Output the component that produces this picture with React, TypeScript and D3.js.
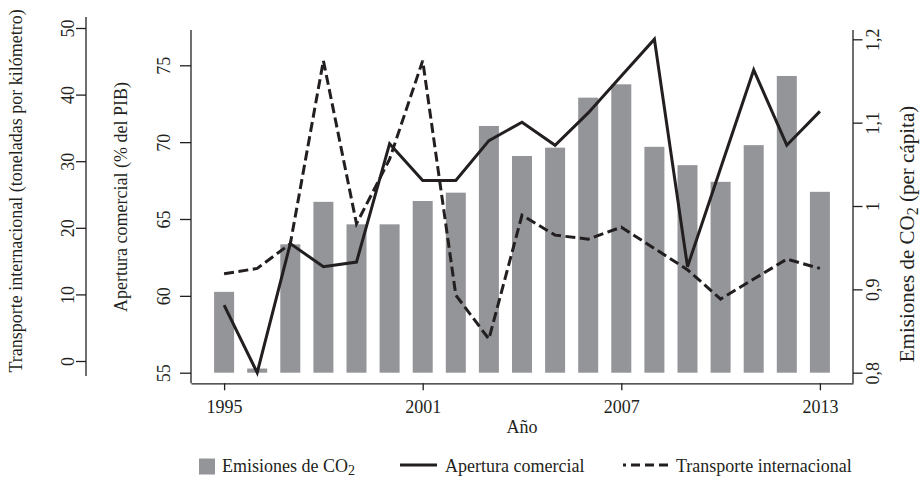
import { useEffect, useRef } from "react";
import * as d3 from "d3";

// values
const years = [
  1995, 1996, 1997, 1998, 1999, 2000, 2001, 2002, 2003, 2004, 2005, 2006,
  2007, 2008, 2009, 2010, 2011, 2012, 2013,
];
const co2Emissions = [
  0.897, 0.805, 0.954, 1.005, 0.978, 0.978, 1.006, 1.016, 1.096, 1.06, 1.07,
  1.13, 1.146, 1.071, 1.049, 1.029, 1.073, 1.156, 1.017,
];
const tradeOpenness = [
  59.4, 55.0, 63.4, 61.9, 62.2, 69.9, 67.5, 67.5, 70.1, 71.3, 69.8, 71.9,
  74.3, 76.7, 61.9, 68.3, 74.7, 69.8, 72.0,
];
const intlTransport = [
  13.1, 13.9, 17.6, 45.1, 20.6, 30.3, 45.1, 9.9, 3.3, 21.9, 18.9, 18.3, 20.1,
  16.9, 13.7, 9.3, 12.3, 15.3, 13.9,
];
const yearTicks = [1995, 2001, 2007, 2013];
const tradeTicks = [55, 60, 65, 70, 75];
const transportTicks = [0, 10, 20, 30, 40, 50];
const co2Ticks = [0.8, 0.9, 1, 1.1, 1.2];

const INK = "#231f20";
const BAR = "#939598";
const FONT = '"Liberation Serif", "Times New Roman", serif';

export default function App() {
  const svgRef = useRef<SVGSVGElement | null>(null);

  useEffect(() => {
    if (!svgRef.current) return;
    const svg = d3.select(svgRef.current);
    svg.selectAll("*").remove();

    const left = 191;
    const right = 853;
    const bottom = 383.3;
    const top = 30;

    const x = d3.scaleLinear().domain([1994, 2014]).range([left, right]);
    const yCo2 = d3.scaleLinear().domain([0.8, 1.2]).range([372.7, 39.3]);
    const yTrade = d3.scaleLinear().domain([55, 75]).range([372.7, 65.3]);
    const yTrans = d3.scaleLinear().domain([0, 50]).range([361, 28]);

    const root = svg
      .append("g")
      .attr("font-family", FONT)
      .attr("font-size", 18)
      .attr("fill", INK);

    // bars (right axis)
    root
      .append("g")
      .selectAll("rect")
      .data(years)
      .join("rect")
      .attr("x", (d) => x(d) - 10)
      .attr("width", 20)
      .attr("y", (d, i) => yCo2(co2Emissions[i]))
      .attr("height", (d, i) => yCo2(0.8) - yCo2(co2Emissions[i]))
      .attr("fill", BAR);

    // lines
    const tradeLine = d3
      .line<number>()
      .x((d, i) => x(years[i]))
      .y((d) => yTrade(d));
    const transLine = d3
      .line<number>()
      .x((d, i) => x(years[i]))
      .y((d) => yTrans(d));

    root
      .append("path")
      .datum(intlTransport)
      .attr("fill", "none")
      .attr("stroke", INK)
      .attr("stroke-width", 3)
      .attr("stroke-dasharray", "10 4.5")
      .attr("d", transLine);

    root
      .append("path")
      .datum(tradeOpenness)
      .attr("fill", "none")
      .attr("stroke", INK)
      .attr("stroke-width", 3)
      .attr("stroke-linejoin", "miter")
      .attr("d", tradeLine);

    const styleAxis = (g, labelShift: number) => {
      g.attr("font-family", FONT).attr("font-size", 18);
      g.select(".domain").remove();
      g.selectAll(".tick line").attr("stroke", INK).attr("stroke-width", 1.3);
      g.selectAll(".tick text")
        .attr("fill", INK)
        .attr("x", 0)
        .attr("dy", null)
        .attr("text-anchor", "middle")
        .attr("transform", `translate(${labelShift},0) rotate(-90)`);
    };

    const fmtComma = (d) =>
      String(Math.round(+d * 10) / 10).replace(".", ",");

    // transport axis (far left)
    const gTrans = root
      .append("g")
      .attr("transform", `translate(86,0)`)
      .call(d3.axisLeft(yTrans).tickValues(transportTicks).tickSize(10));
    styleAxis(gTrans, -12);
    gTrans
      .append("line")
      .attr("y1", 17)
      .attr("y2", 376)
      .attr("stroke", INK)
      .attr("stroke-width", 1.3);

    // trade axis
    const gTrade = root
      .append("g")
      .attr("transform", `translate(${left},0)`)
      .call(d3.axisLeft(yTrade).tickValues(tradeTicks).tickSize(11));
    styleAxis(gTrade, -21);
    gTrade
      .append("line")
      .attr("y1", top)
      .attr("y2", bottom)
      .attr("stroke", INK)
      .attr("stroke-width", 1.3);

    // CO2 axis (right)
    const gCo2 = root
      .append("g")
      .attr("transform", `translate(${right},0)`)
      .call(
        d3.axisRight(yCo2).tickValues(co2Ticks).tickFormat(fmtComma).tickSize(9.5)
      );
    styleAxis(gCo2, 26);
    gCo2
      .append("line")
      .attr("y1", top)
      .attr("y2", bottom)
      .attr("stroke", INK)
      .attr("stroke-width", 1.3);

    // year axis
    const gx = root
      .append("g")
      .attr("transform", `translate(0,${bottom})`)
      .call(
        d3
          .axisBottom(x)
          .tickValues(yearTicks)
          .tickFormat(d3.format("d"))
          .tickSize(7)
          .tickSizeOuter(0)
      );
    gx.attr("font-family", FONT).attr("font-size", 18);
    gx.select(".domain").attr("stroke", INK).attr("stroke-width", 1.3);
    gx.selectAll(".tick line").attr("stroke", INK).attr("stroke-width", 1.3);
    gx.selectAll(".tick text").attr("fill", INK).attr("y", 30).attr("dy", null);

    // axis titles
    root
      .append("text")
      .attr("x", (left + right) / 2)
      .attr("y", 432.7)
      .attr("text-anchor", "middle")
      .text("Año");

    root
      .append("text")
      .attr("transform", "translate(22,191) rotate(-90)")
      .attr("text-anchor", "middle")
      .text("Transporte internacional (toneladas por kilómetro)");

    root
      .append("text")
      .attr("transform", "translate(127,197) rotate(-90)")
      .attr("text-anchor", "middle")
      .text("Apertura comercial (% del PIB)");

    const rt = root
      .append("text")
      .attr("transform", "translate(914,234) rotate(-90)")
      .attr("text-anchor", "middle")
      .attr("font-size", 21);
    rt.append("tspan").text("Emisiones de CO");
    rt.append("tspan").attr("font-size", 16).attr("dy", 4).text("2");
    rt.append("tspan").attr("dy", -4).text(" (per cápita)");

    // legend
    const lg = root.append("g");
    lg.append("rect")
      .attr("x", 199)
      .attr("y", 458.5)
      .attr("width", 16)
      .attr("height", 16)
      .attr("fill", BAR);
    const t1 = lg.append("text").attr("x", 222).attr("y", 471.5);
    t1.append("tspan").text("Emisiones de CO");
    t1.append("tspan").attr("font-size", 14).attr("dy", 3).text("2");

    lg.append("line")
      .attr("x1", 400)
      .attr("x2", 437)
      .attr("y1", 465)
      .attr("y2", 465)
      .attr("stroke", INK)
      .attr("stroke-width", 3);
    lg.append("text").attr("x", 445).attr("y", 471.5).text("Apertura comercial");

    lg.append("line")
      .attr("x1", 623)
      .attr("x2", 672)
      .attr("y1", 465)
      .attr("y2", 465)
      .attr("stroke", INK)
      .attr("stroke-width", 3)
      .attr("stroke-dasharray", "9 5")
      .attr("stroke-dashoffset", 6);
    lg.append("text")
      .attr("x", 676)
      .attr("y", 471.5)
      .text("Transporte internacional");
  }, []);

  return (
    <svg
      ref={svgRef}
      width={921}
      height={477}
      style={{ position: "absolute", left: 0, top: 0, background: "#fff" }}
    ></svg>
  );
}
